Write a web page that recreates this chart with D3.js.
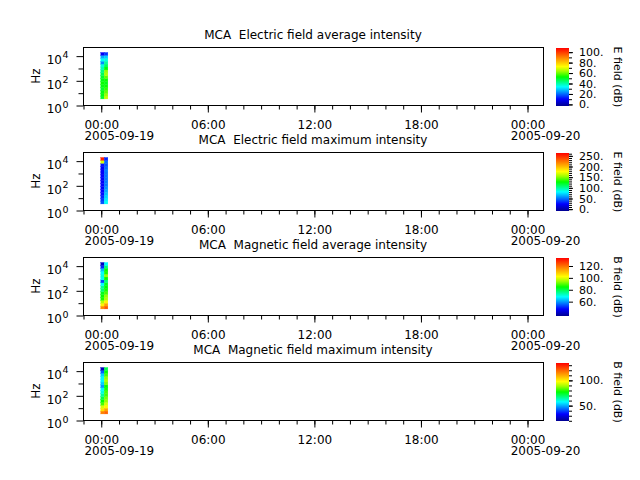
<!DOCTYPE html>
<html>
<head>
<meta charset="utf-8">
<script src="https://cdn.jsdelivr.net/npm/d3@7"></script>
<style>
  body { margin: 0; background: white; }
  text { font-family: "DejaVu Sans", sans-serif; fill: black; }
</style>
</head>
<body>
<svg id="chart" width="640" height="480"></svg>
<script>
// panel titles and colorbar labels
const titles = [
  "MCA  Electric field average intensity",
  "MCA  Electric field maximum intensity",
  "MCA  Magnetic field average intensity",
  "MCA  Magnetic field maximum intensity"
];
const cbLabels = ["E field (dB)", "E field (dB)", "B field (dB)", "B field (dB)"];

// colorbar ranges and ticks
const cbDomains = [[-4, 107], [-11, 261], [35, 132.6], [18.6, 133.4]];
const cbMajor = [[0, 20, 40, 60, 80, 100], [0, 50, 100, 150, 200, 250], [60, 80, 100, 120], [50, 100]];
const cbMinorStep = [[0, 101, 10], [0, 261, 10], null, [20, 131, 10]];

// frequency bin edges (Hz), bottom to top
const freqEdges = [3.1, 5.3, 9.1, 15.7, 27, 46, 80, 137, 236, 405, 700, 1200, 2070, 3560, 6100, 10500, 18100];
// time bin edges
const timeEdges = [new Date(Date.UTC(2005, 8, 19, 0, 0)), new Date(Date.UTC(2005, 8, 19, 0, 12)), new Date(Date.UTC(2005, 8, 19, 0, 24))];

// spectra, one value per frequency bin (bottom to top), two time columns per panel
const eAvgCol1 = [48, 50, 50, 48, 50, 52, 50, 48, 45, 42, 38, 35, 22, 33, 25, 8];
const eAvgCol2 = [66, 62, 58, 55, 52, 50, 52, 58, 64, 62, 52, 45, 40, 35, 28, 14];
const eMaxCol1 = [40, 35, 30, 25, 22, 20, 22, 20, 20, 22, 20, 20, 20, 25, 165, 250];
const eMaxCol2 = [80, 75, 70, 65, 60, 55, 50, 50, 48, 48, 48, 50, 45, 40, 45, 30];
const bAvgCol1 = [116, 103, 95, 85, 84, 82, 76, 74, 67, 52, 67, 69, 67, 62, 50, 40];
const bAvgCol2 = [122, 113, 103, 95, 93, 88, 85, 84, 82, 76, 84, 93, 85, 84, 76, 67];
const bMaxCol1 = [115, 101, 93, 81, 76, 70, 64, 59, 56, 47, 52, 56, 56, 52, 41, 24];
const bMaxCol2 = [119, 110, 98, 93, 87, 85, 81, 81, 78, 76, 85, 89, 87, 81, 76, 70];

const panelData = [
  [eAvgCol1, eAvgCol2],
  [eMaxCol1, eMaxCol2],
  [bAvgCol1, bAvgCol2],
  [bMaxCol1, bMaxCol2]
];

// x axis ticks
const majorTimes = [0, 6, 12, 18, 24].map(h => new Date(Date.UTC(2005, 8, 19, h)));

// layout
const left = 83, right = 543;
const tops = [47, 152, 257, 362];
const ph = 58;
const cbX = 556, cbW = 13;

// rainbow colormap
const cmapStops = [0, 0.12, 0.33, 0.5, 0.6, 0.68, 0.84, 1];
const cmapColors = ["#000090", "#0000ff", "#00ffff", "#00ff00", "#a0ff00", "#ffff00", "#ff8000", "#ff0000"];
const cmap = d3.scaleLinear().domain(cmapStops).range(cmapColors).interpolate(d3.interpolateRgb).clamp(true);

const svg = d3.select("#chart");
const defs = svg.append("defs");
const grad = defs.append("linearGradient")
  .attr("id", "rainbow")
  .attr("x1", 0).attr("y1", 1).attr("x2", 0).attr("y2", 0);
grad.selectAll("stop")
  .data(cmapStops)
  .enter()
  .append("stop")
  .attr("offset", d => d)
  .attr("stop-color", (d, i) => cmapColors[i]);

const x = d3.scaleUtc()
  .domain([new Date(Date.UTC(2005, 8, 18, 23, 0)), new Date(Date.UTC(2005, 8, 20, 0, 54))])
  .range([left, right]);

const hourTicks = d3.utcHour.range(new Date(Date.UTC(2005, 8, 18, 23)), new Date(Date.UTC(2005, 8, 20, 1)));

tops.forEach((top, p) => {
  const bottom = top + ph;
  const g = svg.append("g");

  const y = d3.scaleLog()
    .domain([1, Math.pow(10, 4.7)])
    .range([bottom, top]);

  const c = d3.scaleLinear().domain(cbDomains[p]).range([0, 1]);

  // cells
  const cells = [];
  panelData[p].forEach((col, j) => {
    col.forEach((v, i) => {
      cells.push({ t0: timeEdges[j], t1: timeEdges[j + 1], f0: freqEdges[i], f1: freqEdges[i + 1], v: v });
    });
  });
  g.selectAll("rect.cell")
    .data(cells)
    .enter()
    .append("rect")
    .attr("class", "cell")
    .attr("x", d => x(d.t0))
    .attr("width", d => x(d.t1) - x(d.t0))
    .attr("y", d => y(d.f1))
    .attr("height", d => y(d.f0) - y(d.f1))
    .attr("fill", d => cmap(c(d.v)))
    .attr("stroke", d => cmap(c(d.v)))
    .attr("stroke-width", 0.3);

  // frame
  g.append("rect")
    .attr("x", left + 0.5).attr("y", top + 0.5)
    .attr("width", right - left).attr("height", ph)
    .attr("fill", "none").attr("stroke", "black");

  // x axis: minor hour ticks, major 6h ticks
  const xMinor = d3.axisBottom(x).tickValues(hourTicks).tickSize(4).tickFormat("").tickSizeOuter(0);
  const gxm = g.append("g").attr("transform", `translate(0.5,${bottom + 0.5})`).call(xMinor);
  gxm.select(".domain").remove();

  const xMajor = d3.axisBottom(x).tickValues(majorTimes).tickSize(7).tickSizeOuter(0).tickFormat(d3.utcFormat("%H:%M"));
  const gx = g.append("g").attr("transform", `translate(0.5,${bottom + 0.5})`).call(xMajor);
  gx.select(".domain").remove();
  gx.selectAll("text")
    .attr("y", 0).attr("dy", null)
    .attr("transform", "translate(0,23)")
    .style("font-size", "12px")
    .style("font-family", "DejaVu Sans");
  gx.selectAll(".tick").each(function(d) {
    if (d.getUTCHours() === 0) {
      const t = d3.select(this).select("text");
      const w = t.node().getComputedTextLength();
      d3.select(this).append("text")
        .attr("x", -w / 2)
        .attr("y", 34.5)
        .attr("text-anchor", "start")
        .attr("fill", "black")
        .style("font-size", "12px")
        .text(d3.utcFormat("%Y-%m-%d")(d));
    }
  });

  // y axis
  const yMinor = d3.axisLeft(y).tickValues([10, 1000]).tickSize(5).tickFormat("").tickSizeOuter(0);
  const gym = g.append("g").attr("transform", `translate(${left + 0.5},0.5)`).call(yMinor);
  gym.select(".domain").remove();
  const yMajor = d3.axisLeft(y).tickValues([1, 100, 10000]).tickSize(7).tickFormat("").tickSizeOuter(0);
  const gy = g.append("g").attr("transform", `translate(${left + 0.5},0.5)`).call(yMajor);
  gy.select(".domain").remove();
  gy.selectAll(".tick").each(function(d) {
    const e = Math.round(Math.log10(d));
    d3.select(this).append("text")
      .attr("x", -21.5).attr("y", 7.3)
      .attr("text-anchor", "end")
      .attr("fill", "black")
      .style("font-size", "12px")
      .text("10");
    d3.select(this).append("text")
      .attr("x", -21).attr("y", 1.8)
      .attr("text-anchor", "start")
      .attr("fill", "black")
      .style("font-size", "9.5px")
      .text(e);
  });

  svg.append("text")
    .attr("transform", `translate(40,${top + ph / 2}) rotate(-90)`)
    .attr("text-anchor", "middle")
    .style("font-size", "12px")
    .text("Hz");

  // title
  svg.append("text")
    .attr("x", (left + right) / 2)
    .attr("y", top - 8)
    .attr("text-anchor", "middle")
    .style("font-size", "12px")
    .style("white-space", "pre")
    .text(titles[p]);

  // colorbar
  const cbTop = top + 1, cbBottom = bottom + 1;
  svg.append("rect")
    .attr("x", cbX).attr("y", cbTop)
    .attr("width", cbW).attr("height", cbBottom - cbTop)
    .attr("fill", "url(#rainbow)");
  const cy = d3.scaleLinear().domain(cbDomains[p]).range([cbBottom, cbTop]);
  if (cbMinorStep[p]) {
    const ms = cbMinorStep[p];
    const cbm = d3.axisRight(cy).tickValues(d3.range(ms[0], ms[1], ms[2])).tickSize(3).tickFormat("").tickSizeOuter(0);
    const gcm = svg.append("g").attr("transform", `translate(${cbX + cbW},0.5)`).call(cbm);
    gcm.select(".domain").remove();
  }
  const cba = d3.axisRight(cy).tickValues(cbMajor[p]).tickSize(4).tickPadding(6).tickSizeOuter(0).tickFormat(d => d + ".");
  const gc = svg.append("g").attr("transform", `translate(${cbX + cbW},0.5)`).call(cba);
  gc.select(".domain").remove();
  gc.selectAll("text").style("font-size", "11px").style("font-family", "DejaVu Sans");

  svg.append("text")
    .attr("transform", `translate(614,${(cbTop + cbBottom) / 2}) rotate(90)`)
    .attr("text-anchor", "middle")
    .style("font-size", "11px")
    .text(cbLabels[p]);
});
</script>
</body>
</html>
